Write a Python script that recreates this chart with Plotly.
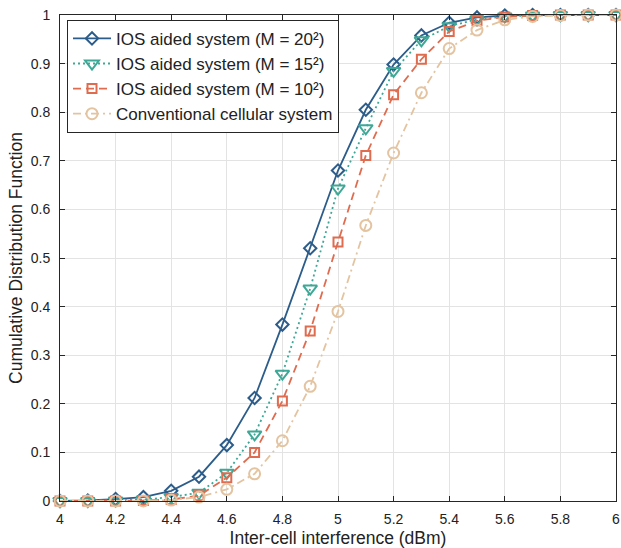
import plotly.graph_objects as go

x = [4.0, 4.1, 4.2, 4.3, 4.4, 4.5, 4.6, 4.7, 4.8, 4.9, 5.0, 5.1, 5.2, 5.3, 5.4, 5.5, 5.6, 5.7, 5.8, 5.9, 6.0]
m20 = [0.0, 0.001, 0.004, 0.008, 0.021, 0.05, 0.115, 0.212, 0.363, 0.52, 0.68, 0.805, 0.898, 0.958, 0.984, 0.995, 0.999, 1.0, 1.0, 1.0, 1.0]
m15 = [0.0, 0.0, 0.001, 0.003, 0.008, 0.017, 0.058, 0.137, 0.262, 0.437, 0.643, 0.767, 0.885, 0.948, 0.977, 0.991, 0.997, 0.999, 1.0, 1.0, 1.0]
m10 = [0.0, 0.0, 0.0, 0.001, 0.003, 0.011, 0.048, 0.1, 0.206, 0.35, 0.533, 0.711, 0.836, 0.909, 0.966, 0.988, 0.996, 0.999, 1.0, 1.0, 1.0]
conv = [0.0, 0.0, 0.0, 0.0, 0.002, 0.008, 0.024, 0.056, 0.124, 0.236, 0.39, 0.567, 0.716, 0.84, 0.931, 0.969, 0.99, 0.997, 0.999, 1.0, 1.0]

x_ticks = [4, 4.2, 4.4, 4.6, 4.8, 5, 5.2, 5.4, 5.6, 5.8, 6]
x_tick_labels = ["4", "4.2", "4.4", "4.6", "4.8", "5", "5.2", "5.4", "5.6", "5.8", "6"]
y_ticks = [0, 0.1, 0.2, 0.3, 0.4, 0.5, 0.6, 0.7, 0.8, 0.9, 1]
y_tick_labels = ["0", "0.1", "0.2", "0.3", "0.4", "0.5", "0.6", "0.7", "0.8", "0.9", "1"]

names = ["IOS aided system (M = 20²)", "IOS aided system (M = 15²)",
         "IOS aided system (M = 10²)", "Conventional cellular system"]
colors = ["#2c5d8a", "#3ea896", "#e06c4f", "#e4c4a0"]
symbols = ["diamond-open", "triangle-down-open", "square-open", "circle-open"]
dashes = ["solid", "2px,3px", "8px,5px", "8px,4px,2px,4px"]
sizes = [9.5, 12, 9, 11]
series = [m20, m15, m10, conv]

fig = go.Figure()
for ys, n, c, s, d, sz in zip(series, names, colors, symbols, dashes, sizes):
    fig.add_trace(go.Scatter(
        x=x, y=ys, name=n, mode="lines+markers", cliponaxis=False,
        line=dict(color=c, width=1.8, dash=d),
        marker=dict(symbol=s, size=sz, color=c, line=dict(width=2, color=c)),
    ))

axis_common = dict(
    showgrid=True, gridcolor="#e3e3e3", gridwidth=1,
    showline=True, linecolor="#262626", linewidth=1, mirror="ticks",
    ticks="inside", ticklen=5, tickcolor="#262626",
    zeroline=False, tickfont=dict(size=14, color="#222"),
    automargin=False,
)

fig.update_layout(
    width=621, height=548,
    margin=dict(l=60, r=5, t=15, b=47),
    paper_bgcolor="white", plot_bgcolor="white",
    font=dict(family="Liberation Sans, Arial, sans-serif", color="#222"),
    xaxis=dict(range=[4, 6], tickvals=x_ticks, ticktext=x_tick_labels,
               ticklabelstandoff=5,
               title=dict(text="Inter-cell interference (dBm)", font=dict(size=17.5), standoff=7),
               **axis_common),
    yaxis=dict(range=[0, 1], tickvals=y_ticks, ticktext=y_tick_labels,
               ticklabelstandoff=6,
               title=dict(text="Cumulative Distribution Function", font=dict(size=17.5), standoff=3),
               **axis_common),
    legend=dict(x=0.0126, y=0.99, xanchor="left", yanchor="top",
                bgcolor="white", bordercolor="#262626", borderwidth=1,
                font=dict(size=17, color="#222"), tracegroupgap=0,
                itemwidth=38),
    showlegend=True,
)

fig.write_html("out.html")
